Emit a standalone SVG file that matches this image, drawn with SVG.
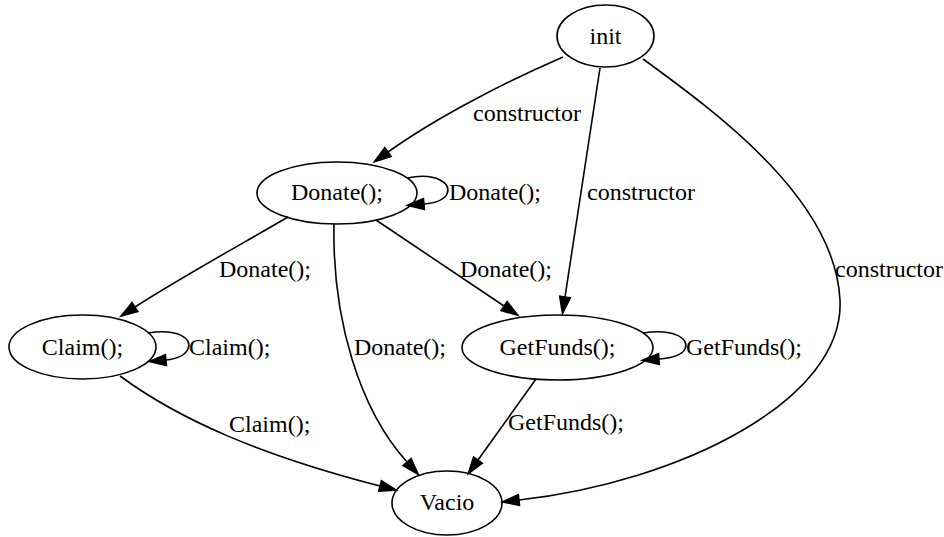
<svg xmlns="http://www.w3.org/2000/svg" width="944" height="537" viewBox="0 0 944 537" font-family="Liberation Serif, DejaVu Serif, serif" font-size="24">
<style>
.n ellipse{fill:none;stroke:#000;stroke-width:1.6}
.n text{text-anchor:middle}
.e path{fill:none;stroke:#000;stroke-width:1.6;marker-end:url(#ah)}
</style>
<defs>
<marker id="ah" markerUnits="userSpaceOnUse" viewBox="0 0 18 12" refX="0" refY="6" markerWidth="18" markerHeight="12" orient="auto" overflow="visible">
<path d="M0,0.5 L17,6 L0,11.5 z" fill="#000" stroke="#000" stroke-width="1.4"/>
</marker>
</defs>
<rect width="944" height="537" fill="#fff"/>
<g id="edges" class="e">
<path d="M563,57 C510,80 440,115 388,152"/>
<path d="M407,178 C437,172 452,184 447,194 C444,200 436,203 424,204"/>
<path d="M600,68 L565,297"/>
<path d="M643,59 C720,115 835,200 840,300 C845,400 680,482 519,500"/>
<path d="M288,217 C240,245 180,278 135,307"/>
<path d="M334,224 C332,320 360,410 407,462"/>
<path d="M376,220 L504,306"/>
<path d="M148,333 C178,328 193,339 188,349 C185,355 177,359 166,360"/>
<path d="M120,376 C180,420 260,455 380,486"/>
<path d="M643,333 C674,328 690,339 685,349 C682,355 672,358 659,359"/>
<path d="M536,379 L478,460"/>
</g>
<g id="edge-labels" font-family="Liberation Serif, serif">
<text x="473" y="121">constructor</text>
<text x="449" y="200">Donate();</text>
<text x="587" y="200">constructor</text>
<text x="219" y="277">Donate();</text>
<text x="460" y="277">Donate();</text>
<text x="835" y="277">constructor</text>
<text x="189" y="355">Claim();</text>
<text x="354" y="355">Donate();</text>
<text x="686" y="355">GetFunds();</text>
<text x="229" y="432">Claim();</text>
<text x="508" y="430">GetFunds();</text>
</g>
<g id="init" class="n"><ellipse cx="605.5" cy="36" rx="48.5" ry="31"/><text x="605.5" y="44">init</text></g>
<g id="donate" class="n"><ellipse cx="337" cy="193" rx="80" ry="31"/><text x="337" y="200">Donate();</text></g>
<g id="claim" class="n"><ellipse cx="82.5" cy="347" rx="73.5" ry="32"/><text x="82.5" y="355">Claim();</text></g>
<g id="getfunds" class="n"><ellipse cx="557.5" cy="347.5" rx="95.5" ry="32.5"/><text x="557.5" y="355">GetFunds();</text></g>
<g id="vacio" class="n"><ellipse cx="447" cy="503" rx="55" ry="32"/><text x="447" y="510">Vacio</text></g>
</svg>
